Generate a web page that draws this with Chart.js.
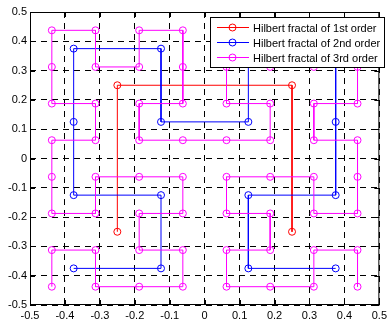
<!DOCTYPE html>
<html>
<head>
<meta charset="utf-8">
<script src="https://cdn.jsdelivr.net/npm/chart.js@4/dist/chart.umd.min.js"></script>
<style>
  html, body { margin: 0; padding: 0; background: #fff; }
  #wrap { width: 391px; height: 322px; }
</style>
</head>
<body>
<div id="wrap"><canvas id="chartHilbert" width="391" height="322"></canvas></div>
<script>
// Hilbert curve vertices
const order1X = [-0.25, -0.25, 0.25, 0.25];
const order1Y = [-0.25, 0.25, 0.25, -0.25];

const order2X = [-0.375, -0.125, -0.125, -0.375, -0.375, -0.375, -0.125, -0.125,
                 0.125, 0.125, 0.375, 0.375, 0.375, 0.125, 0.125, 0.375];
const order2Y = [-0.375, -0.375, -0.125, -0.125, 0.125, 0.375, 0.375, 0.125,
                 0.125, 0.375, 0.375, 0.125, -0.125, -0.125, -0.375, -0.375];

const order3X = [
  -0.4375, -0.4375, -0.3125, -0.3125, -0.1875, -0.0625, -0.0625, -0.1875,
  -0.1875, -0.0625, -0.0625, -0.1875, -0.3125, -0.3125, -0.4375, -0.4375,
  -0.4375, -0.3125, -0.3125, -0.4375, -0.4375, -0.4375, -0.3125, -0.3125,
  -0.1875, -0.1875, -0.0625, -0.0625, -0.0625, -0.1875, -0.1875, -0.0625,
  0.0625, 0.1875, 0.1875, 0.0625, 0.0625, 0.0625, 0.1875, 0.1875,
  0.3125, 0.3125, 0.4375, 0.4375, 0.4375, 0.3125, 0.3125, 0.4375,
  0.4375, 0.4375, 0.3125, 0.3125, 0.1875, 0.0625, 0.0625, 0.1875,
  0.1875, 0.0625, 0.0625, 0.1875, 0.3125, 0.3125, 0.4375, 0.4375
];
const order3Y = [
  -0.4375, -0.3125, -0.3125, -0.4375, -0.4375, -0.4375, -0.3125, -0.3125,
  -0.1875, -0.1875, -0.0625, -0.0625, -0.0625, -0.1875, -0.1875, -0.0625,
  0.0625, 0.0625, 0.1875, 0.1875, 0.3125, 0.4375, 0.4375, 0.3125,
  0.3125, 0.4375, 0.4375, 0.3125, 0.1875, 0.1875, 0.0625, 0.0625,
  0.0625, 0.0625, 0.1875, 0.1875, 0.3125, 0.4375, 0.4375, 0.3125,
  0.3125, 0.4375, 0.4375, 0.3125, 0.1875, 0.1875, 0.0625, 0.0625,
  -0.0625, -0.1875, -0.1875, -0.0625, -0.0625, -0.0625, -0.1875, -0.1875,
  -0.3125, -0.3125, -0.4375, -0.4375, -0.4375, -0.3125, -0.3125, -0.4375
];

const seriesNames = ['Hilbert fractal of 1st order', 'Hilbert fractal of 2nd order', 'Hilbert fractal of 3rd order'];
const tickLabels = ['-0.5', '-0.4', '-0.3', '-0.2', '-0.1', '0', '0.1', '0.2', '0.3', '0.4', '0.5'];

const toPoints = (xs, ys) => xs.map((x, i) => ({ x: x, y: ys[i] }));
const FONT = 'Liberation Sans, Arial, sans-serif';

function makeSet(label, xs, ys, color, order) {
    return {
        label: label,
        data: toPoints(xs, ys),
        showLine: true,
        borderColor: color,
        backgroundColor: color,
        borderWidth: 1,
        pointStyle: 'circle',
        pointRadius: 3.5,
        pointBorderWidth: 1,
        pointBorderColor: color,
        pointBackgroundColor: 'rgba(0,0,0,0)',
        order: order,
    };
}

// box round the axes, ticks pointing inward, and a MATLAB style legend
const boxPlugin = {
    id: 'boxPlugin',
    afterDraw(chart) {
        const { ctx, chartArea: a, scales } = chart;
        ctx.save();
        ctx.strokeStyle = '#000';
        ctx.lineWidth = 1;
        ctx.setLineDash([]);
        ctx.strokeRect(a.left + 0.5, a.top + 0.5, a.right - a.left - 1, a.bottom - a.top - 1);
        ctx.beginPath();
        tickLabels.forEach(t => {
            const v = parseFloat(t);
            const px = Math.round(scales.x.getPixelForValue(v)) + 0.5;
            ctx.moveTo(px, a.bottom); ctx.lineTo(px, a.bottom - 5);
            ctx.moveTo(px, a.top); ctx.lineTo(px, a.top + 5);
            const py = Math.round(scales.y.getPixelForValue(v)) + 0.5;
            ctx.moveTo(a.left, py); ctx.lineTo(a.left + 5, py);
            ctx.moveTo(a.right, py); ctx.lineTo(a.right - 5, py);
        });
        ctx.stroke();

        // legend
        const lx = 210.5, ly = 17.5, lw = 174, lh = 50;
        ctx.fillStyle = '#fff';
        ctx.fillRect(lx, ly, lw, lh);
        ctx.strokeRect(lx, ly, lw, lh);
        ctx.font = '11px ' + FONT;
        ctx.textBaseline = 'middle';
        ctx.textAlign = 'left';
        chart.data.datasets.forEach((ds, i) => {
            const y = 27.5 + i * 15;
            ctx.strokeStyle = ds.borderColor;
            ctx.beginPath();
            ctx.moveTo(217, y); ctx.lineTo(249, y);
            ctx.stroke();
            ctx.beginPath();
            ctx.arc(232.5, y, 3.5, 0, Math.PI * 2);
            ctx.stroke();
            ctx.fillStyle = '#000';
            ctx.fillText(ds.label, 253, y + 1);
        });
        ctx.restore();
    }
};

const axisOpts = (pos) => ({
    type: 'linear',
    position: pos,
    min: -0.5,
    max: 0.5,
    ticks: {
        stepSize: 0.1,
        color: '#000',
        font: { family: FONT, size: 11 },
        padding: pos === 'left' ? 3 : 4,
        callback: (v, i) => tickLabels[i],
    },
    grid: {
        color: '#000',
        lineWidth: 1,
        drawTicks: false,
    },
    border: { display: false, dash: [6, 5] },
    afterFit: (scale) => {
        if (pos === 'left') scale.width = 30; else scale.height = 17;
    },
});

const ctxHilbert = document.getElementById('chartHilbert').getContext('2d');
const chartHilbert = new Chart(ctxHilbert, {
    type: 'scatter',
    data: {
        datasets: [
            makeSet(seriesNames[0], order1X, order1Y, '#ff0000', 2),
            makeSet(seriesNames[1], order2X, order2Y, '#0000ff', 1),
            makeSet(seriesNames[2], order3X, order3Y, '#ff00ff', 0),
        ],
    },
    options: {
        responsive: false,
        animation: false,
        layout: { padding: { top: 12, right: 7, left: 0, bottom: 0 } },
        plugins: {
            legend: { display: false },
            tooltip: { enabled: false },
        },
        scales: {
            x: axisOpts('bottom'),
            y: axisOpts('left'),
        },
    },
    plugins: [boxPlugin],
});
</script>
</body>
</html>
